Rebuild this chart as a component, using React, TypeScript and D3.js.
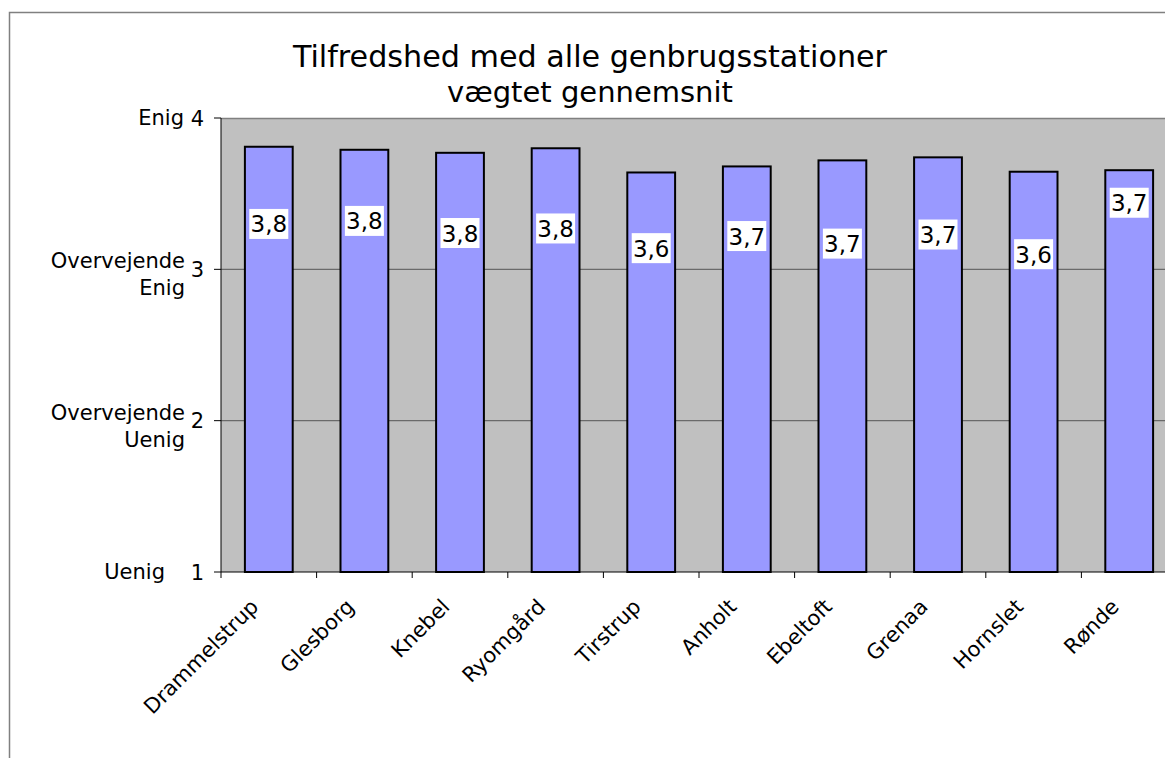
import React from "react";
import * as d3 from "d3";

const categories = ["Drammelstrup", "Glesborg", "Knebel", "Ryomgård", "Tirstrup", "Anholt", "Ebeltoft", "Grenaa", "Hornslet", "Rønde"];
const values = [3.81, 3.79, 3.77, 3.8, 3.64, 3.68, 3.72, 3.74, 3.645, 3.655];
const valueLabels = ["3,8", "3,8", "3,8", "3,8", "3,6", "3,7", "3,7", "3,7", "3,6", "3,7"];
// vertical anchor of each data label, in data units
const labelAnchors = [3.3, 3.32, 3.24, 3.27, 3.14, 3.22, 3.17, 3.23, 3.1, 3.44];
const yTicks = [1, 2, 3, 4];
const yTickTexts: Record<number, string[]> = {
  4: ["Enig"],
  3: ["Overvejende", "Enig"],
  2: ["Overvejende", "Uenig"],
  1: ["Uenig"],
};
const titleLines = ["Tilfredshed med alle genbrugsstationer", "vægtet gennemsnit"];

const W = 1165;
const H = 758;
const FONT = "'DejaVu Sans', Verdana, sans-serif";

export default function App() {
  const x0 = 221, x1 = 1177, yTop = 118, yBot = 572;
  const x = d3.scaleBand<string>().domain(categories).range([x0, x1]).paddingInner(0.5).paddingOuter(0.25);
  const y = d3.scaleLinear().domain([1, 4]).range([yBot, yTop]);
  const step = x.step();
  const boundaries = d3.range(categories.length + 1).map((i) => x0 + i * step);

  return (
    <svg width={W} height={H} style={{ position: "absolute", left: 0, top: 0, background: "#fff" }} fontFamily={FONT}>
      <rect x={0} y={0} width={W} height={H} fill="#fff" />
      {/* outer frame */}
      <path d={`M9.5,${H + 5} V12.5 H${W + 5}`} fill="none" stroke="#808080" strokeWidth={1.5} />
      {/* title */}
      {titleLines.map((t, i) => (
        <text key={i} x={590} y={67 + i * 35} textAnchor="middle" fontSize={i === 0 ? 30.2 : 29} fill="#000">{t}</text>
      ))}
      {/* plot area */}
      <rect x={x0} y={yTop} width={x1 - x0} height={yBot - yTop} fill="#C0C0C0" />
      <line x1={x0} x2={x1} y1={yTop + 0.5} y2={yTop + 0.5} stroke="#808080" strokeWidth={1.5} />
      {yTicks.filter((t) => t > 1 && t < 4).map((t) => (
        <line key={t} x1={x0} x2={x1} y1={y(t)} y2={y(t)} stroke="#6a6a6a" strokeWidth={1.2} />
      ))}
      {/* bars */}
      {categories.map((c, i) => (
        <rect key={c} x={x(c)!} y={y(values[i])} width={x.bandwidth()} height={yBot - y(values[i])}
          fill="#9999FF" stroke="#000" strokeWidth={2} />
      ))}
      {/* axes */}
      <line x1={x0} x2={x0} y1={yTop} y2={yBot} stroke="#000" strokeWidth={1} />
      <line x1={x0} x2={x1} y1={yBot} y2={yBot} stroke="#000" strokeWidth={1} />
      {yTicks.map((t) => (
        <g key={t}>
          <line x1={x0 - 7} x2={x0} y1={y(t)} y2={y(t)} stroke="#000" strokeWidth={1} />
          <text x={204} y={y(t) + 7.5} textAnchor="end" fontSize={21}>{t}</text>
          {yTickTexts[t].length === 1 ? (
            <text x={t === 1 ? 165 : 184} y={y(t) + 7} textAnchor="end" fontSize={21}>{yTickTexts[t][0]}</text>
          ) : (
            yTickTexts[t].map((s, j) => (
              <text key={j} x={185} y={y(t) - 1 + j * 27} textAnchor="end" fontSize={21}>{s}</text>
            ))
          )}
        </g>
      ))}
      {boundaries.map((b, i) => (
        <line key={i} x1={b} x2={b} y1={yBot} y2={yBot + 6} stroke="#000" strokeWidth={1} />
      ))}
      {/* category labels */}
      {categories.map((c) => {
        const cx = x(c)! + x.bandwidth() / 2;
        return (
          <text key={c} transform={`translate(${cx - 9},${yBot + 36}) rotate(-45)`} textAnchor="end" fontSize={21}>{c}</text>
        );
      })}
      {/* data labels */}
      {categories.map((c, i) => {
        const cx = x(c)! + x.bandwidth() / 2;
        const cy = y(labelAnchors[i]);
        return (
          <g key={c}>
            <rect x={cx - 19.5} y={cy - 15} width={39} height={30} fill="#fff" />
            <text x={cx} y={cy + 8.5} textAnchor="middle" fontSize={23}>{valueLabels[i]}</text>
          </g>
        );
      })}
    </svg>
  );
}
